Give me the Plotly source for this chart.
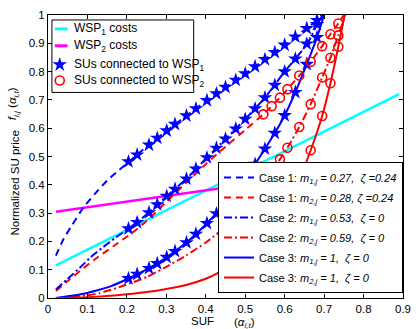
import plotly.graph_objects as go

# ---------------- data ----------------
su1_x = [0.204, 0.226, 0.256, 0.277, 0.301, 0.322, 0.351, 0.375, 0.403, 0.427,
         0.45, 0.476, 0.50, 0.525, 0.55, 0.575, 0.60, 0.627, 0.656, 0.682]
su1_case1_y = [0.482, 0.506, 0.541, 0.565, 0.591, 0.614, 0.644, 0.669, 0.698, 0.722,
               0.745, 0.770, 0.793, 0.818, 0.843, 0.868, 0.894, 0.923, 0.953, 0.981]
su1_case2_y = [0.245, 0.267, 0.302, 0.330, 0.360, 0.385, 0.421, 0.456, 0.496, 0.530,
               0.562, 0.598, 0.632, 0.669, 0.708, 0.752, 0.800, 0.845, 0.898, 0.967]
su1_case3_y = [0.069, 0.084, 0.105, 0.122, 0.144, 0.165, 0.196, 0.226, 0.264, 0.298,
               0.335, 0.378, 0.422, 0.473, 0.527, 0.583, 0.645, 0.727, 0.826, 0.921]

su2_x = [0.546, 0.567, 0.588, 0.607, 0.637, 0.666, 0.695, 0.716, 0.736]
su2_case1_y = [0.649, 0.678, 0.708, 0.738, 0.786, 0.835, 0.890, 0.932, 0.970]
su2_case2_y = [0.420, 0.450, 0.490, 0.531, 0.604, 0.685, 0.779, 0.849, 0.928]
su2_case3_y = [0.200, 0.240, 0.295, 0.340, 0.420, 0.522, 0.643, 0.759, 0.888]

wsp1_cost_x = [0.02, 0.89]
wsp1_cost_y = [0.115, 0.72]
wsp2_cost_x = [0.02, 0.85]
wsp2_cost_y = [0.305, 0.47]

c1_w1_x = [0.02, 0.04, 0.06, 0.09, 0.12, 0.15, 0.18, 0.21, 0.25, 0.30, 0.35, 0.40,
           0.45, 0.50, 0.55, 0.60, 0.65, 0.70]
c1_w1_y = [0.15, 0.21, 0.255, 0.32, 0.37, 0.415, 0.452, 0.487, 0.535, 0.59, 0.643, 0.695,
           0.745, 0.793, 0.843, 0.894, 0.947, 1.0]

c1_w2_x = [0.02, 0.05, 0.083, 0.12, 0.165, 0.215, 0.25, 0.30, 0.35, 0.40, 0.45, 0.50,
           0.546, 0.588, 0.637, 0.666, 0.695, 0.716, 0.736, 0.75]
c1_w2_y = [0.025, 0.06, 0.098, 0.138, 0.182, 0.232, 0.272, 0.34, 0.407, 0.473, 0.535, 0.594,
           0.649, 0.708, 0.786, 0.835, 0.89, 0.932, 0.97, 1.0]

c2_w1_x = [0.02, 0.05, 0.08, 0.107, 0.14, 0.17, 0.204, 0.25, 0.30, 0.35, 0.40, 0.45,
           0.50, 0.55, 0.60, 0.63, 0.66, 0.683, 0.694]
c2_w1_y = [0.03, 0.068, 0.106, 0.143, 0.18, 0.212, 0.245, 0.295, 0.359, 0.42, 0.492, 0.562,
           0.632, 0.708, 0.80, 0.85, 0.905, 0.97, 1.005]

c2_w2_x = [0.02, 0.06, 0.10, 0.13, 0.18, 0.228, 0.25, 0.30, 0.35, 0.40, 0.427, 0.45,
           0.50, 0.55, 0.588, 0.607, 0.637, 0.666, 0.695, 0.716, 0.736, 0.754]
c2_w2_y = [0.0, 0.004, 0.01, 0.017, 0.038, 0.062, 0.074, 0.11, 0.15, 0.196, 0.225, 0.255,
           0.33, 0.415, 0.49, 0.531, 0.604, 0.685, 0.779, 0.849, 0.928, 1.0]

c3_w1_x = [0.02, 0.06, 0.10, 0.13, 0.16, 0.204, 0.25, 0.30, 0.35, 0.40, 0.45, 0.50,
           0.525, 0.55, 0.575, 0.60, 0.627, 0.656, 0.682, 0.70]
c3_w1_y = [0.0, 0.008, 0.018, 0.029, 0.042, 0.069, 0.101, 0.143, 0.195, 0.26, 0.335, 0.422,
           0.473, 0.527, 0.583, 0.645, 0.727, 0.826, 0.921, 1.0]

c3_w2_x = [0.02, 0.10, 0.15, 0.20, 0.25, 0.30, 0.35, 0.40, 0.43, 0.50, 0.55, 0.60,
           0.637, 0.666, 0.695, 0.716, 0.736, 0.752]
c3_w2_y = [0.0, 0.003, 0.007, 0.013, 0.021, 0.032, 0.046, 0.068, 0.088, 0.15, 0.22, 0.32,
           0.42, 0.522, 0.643, 0.759, 0.888, 1.0]

x_ticks = [0, 0.1, 0.2, 0.3, 0.4, 0.5, 0.6, 0.7, 0.8, 0.9]
y_ticks = [0, 0.1, 0.2, 0.3, 0.4, 0.5, 0.6, 0.7, 0.8, 0.9, 1]

case_labels = [
    "Case 1: <i>m<sub>1,j</sub> = 0.27,\u00a0\u00a0ζ =0.24</i>",
    "Case 1: <i>m<sub>2,j</sub> = 0.28, ζ =0.24</i>",
    "Case 2: <i>m<sub>1,j</sub> = 0.53,\u00a0\u00a0ζ = 0</i>",
    "Case 2: <i>m<sub>2,j</sub> = 0.59,\u00a0\u00a0ζ = 0</i>",
    "Case 3: <i>m<sub>1,j</sub> = 1,\u00a0\u00a0ζ = 0</i>",
    "Case 3: <i>m<sub>2,j</sub> = 1,\u00a0\u00a0ζ = 0</i>",
]

# ---------------- styling ----------------
FONT = "Liberation Sans, Arial, Helvetica, sans-serif"
BLUE = "rgb(0,0,255)"
RED = "rgb(255,0,0)"
CYAN = "rgb(0,255,255)"
MAGENTA = "rgb(255,0,255)"
DASH = "7px,5px"
DASHDOT = "8px,3px,2px,3px"

# plot area in pixels
L, R, T, B = 48, 411, 13, 298
W, H = 420, 329


def px(p):
    return (p - L) / (R - L)


def py(p):
    return (B - p) / (B - T)


fig = go.Figure()

fig.add_trace(go.Scatter(x=wsp1_cost_x, y=wsp1_cost_y, mode="lines",
                         line=dict(color=CYAN, width=2.5), showlegend=False))
fig.add_trace(go.Scatter(x=wsp2_cost_x, y=wsp2_cost_y, mode="lines",
                         line=dict(color=MAGENTA, width=2.5), showlegend=False))

curves = [
    (c1_w1_x, c1_w1_y, BLUE, DASH),
    (c1_w2_x, c1_w2_y, RED, DASH),
    (c2_w1_x, c2_w1_y, BLUE, DASHDOT),
    (c2_w2_x, c2_w2_y, RED, DASHDOT),
    (c3_w1_x, c3_w1_y, BLUE, "solid"),
    (c3_w2_x, c3_w2_y, RED, "solid"),
]
for i, (cx, cy, col, dash) in enumerate(curves):
    fig.add_trace(go.Scatter(x=cx, y=cy, mode="lines", name=case_labels[i],
                             legendgroup="g%d" % i,
                             line=dict(color=col, width=2, dash=dash, shape="spline", smoothing=0.6)))

star_marker = dict(symbol="star", size=11, color=BLUE, line=dict(width=0))
circ_marker = dict(symbol="circle-open", size=9, color=RED, line=dict(width=1.6, color=RED))

fig.add_trace(go.Scatter(x=su1_x * 3, y=su1_case1_y + su1_case2_y + su1_case3_y,
                         mode="markers", marker=star_marker, showlegend=False))
fig.add_trace(go.Scatter(x=su2_x * 3, y=su2_case1_y + su2_case2_y + su2_case3_y,
                         mode="markers", marker=circ_marker, showlegend=False))

# --- upper-left legend box (drawn by hand) ---
leg_rows = [27, 44, 63, 79]
leg_texts = ["WSP<sub>1</sub> costs", "WSP<sub>2</sub> costs",
             "SUs connected to WSP<sub>1</sub>", "SUs connected to WSP<sub>2</sub>"]
shapes = [dict(type="rect", xref="paper", yref="paper", x0=px(52), x1=px(197),
               y0=py(91), y1=py(18), line=dict(color="black", width=1),
               fillcolor="white", layer="below")]
for r, col in zip(leg_rows[:2], [CYAN, MAGENTA]):
    shapes.append(dict(type="line", xref="paper", yref="paper", x0=px(55), x1=px(68),
                       y0=py(r), y1=py(r), line=dict(color=col, width=3)))
fig.add_trace(go.Scatter(x=[px(60)], y=[py(leg_rows[2])], xaxis="x2", yaxis="y2",
                         mode="markers", marker=star_marker, showlegend=False))
fig.add_trace(go.Scatter(x=[px(60)], y=[py(leg_rows[3])], xaxis="x2", yaxis="y2",
                         mode="markers", marker=circ_marker, showlegend=False))
annotations = []
for r, t in zip(leg_rows, leg_texts):
    annotations.append(dict(x=px(73), y=py(r), xref="paper", yref="paper", text=t,
                            showarrow=False, xanchor="left", yanchor="middle",
                            font=dict(family=FONT, size=12, color="black")))

# axis labels
annotations += [
    dict(x=px(206), y=py(321), xref="paper", yref="paper", text="SUF", showarrow=False,
         font=dict(family=FONT, size=11.5, color="black"), xanchor="center", yanchor="middle"),
    dict(x=px(249), y=py(323), xref="paper", yref="paper",
         text="(<i>α<sub>i,t</sub></i>)", showarrow=False,
         font=dict(family=FONT, size=11.5, color="black"), xanchor="center", yanchor="middle"),
    dict(x=px(14), y=py(182), xref="paper", yref="paper", text="Normalized SU price",
         textangle=-90, showarrow=False, font=dict(family=FONT, size=11.5, color="black"),
         xanchor="center", yanchor="middle"),
    dict(x=px(13), y=py(102), xref="paper", yref="paper",
         text="<i>f<sub>i,j</sub></i> (<i>α<sub>i,t</sub></i>)",
         textangle=-90, showarrow=False, font=dict(family=FONT, size=11.5, color="black"),
         xanchor="center", yanchor="middle"),
]

axis_common = dict(showgrid=False, zeroline=False, showline=True, linecolor="black",
                   linewidth=1, ticks="inside", ticklen=4, tickcolor="black",
                   mirror="allticks", tickfont=dict(family=FONT, size=11.5, color="black"))

fig.update_layout(
    width=W, height=H,
    margin=dict(l=L, r=W - R, t=T, b=H - B, pad=0),
    paper_bgcolor="white", plot_bgcolor="white",
    xaxis=dict(range=[0, 0.9], tickvals=x_ticks, ticktext=[("%g" % v) for v in x_ticks],
               **axis_common),
    yaxis=dict(range=[0, 1], tickvals=y_ticks, ticktext=[("%g" % v) for v in y_ticks],
               **axis_common),
    xaxis2=dict(overlaying="x", range=[0, 1], visible=False, anchor="y2"),
    yaxis2=dict(overlaying="y", range=[0, 1], visible=False, anchor="x2"),
    legend=dict(x=1, xanchor="right", y=py(293), yanchor="bottom",
                bordercolor="black", borderwidth=1, bgcolor="white",
                font=dict(family=FONT, size=11, color="black"),
                tracegroupgap=1, traceorder="grouped", itemwidth=30),
    shapes=shapes,
    annotations=annotations,
    showlegend=True,
)

fig.write_html("out.html")
